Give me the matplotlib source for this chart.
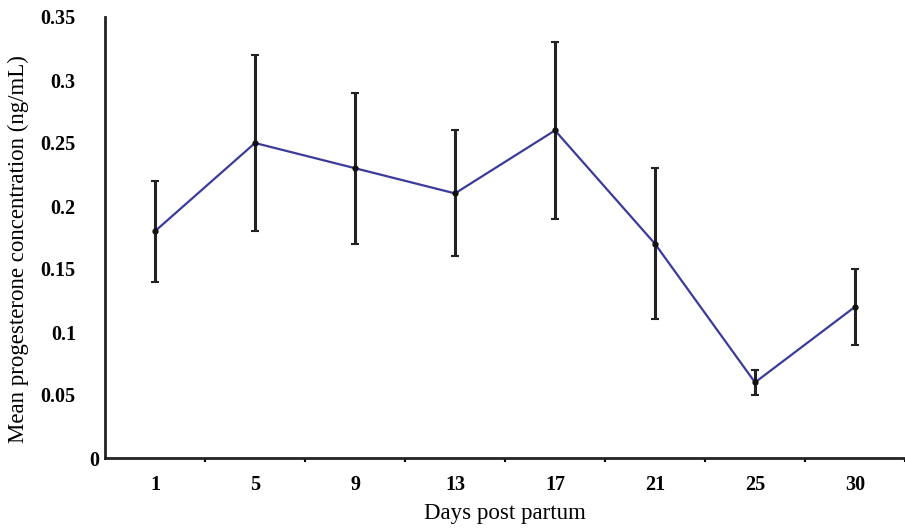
import numpy as np
import matplotlib.pyplot as plt
import matplotlib.transforms as mtransforms

# data
days = ['1', '5', '9', '13', '17', '21', '25', '30']
mean_p4 = [0.18, 0.25, 0.23, 0.21, 0.26, 0.17, 0.06, 0.12]
err_p4 = [0.04, 0.07, 0.06, 0.05, 0.07, 0.06, 0.01, 0.03]
yticks = [0, 0.05, 0.1, 0.15, 0.2, 0.25, 0.3, 0.35]
ytick_labels = ['0', '0.05', '0.1', '0.15', '0.2', '0.25', '0.3', '0.35']

plt.rcParams['font.family'] = ['Liberation Serif', 'DejaVu Serif']

fig = plt.figure(figsize=(9.05, 5.3), dpi=100)
ax = fig.add_axes([105 / 905, 72 / 530, 800 / 905, 441 / 530])

x = np.arange(len(days))
ax.plot(x, mean_p4, color='#3b3b9c', lw=1.6, zorder=2)
ax.errorbar(x, mean_p4, yerr=err_p4, fmt='o', ms=3.5, color='#111111',
            ecolor='#222222', elinewidth=2.2, capsize=3, capthick=1.5, zorder=3)

ax.set_xlim(-0.5, len(days) - 0.5)
ax.set_ylim(0, 0.35)

# category labels at centres, small ticks at the boundaries
ax.set_xticks(x + 0.5)
ax.set_xticklabels([])
ax.set_xticks(x, minor=True)
ax.set_xticklabels(days, minor=True, fontsize=14.5, fontweight='bold')
ax.tick_params(axis='x', which='major', direction='out', length=3, width=1.5)
ax.tick_params(axis='x', which='minor', length=0, pad=12)

ax.set_yticks(yticks)
ax.set_yticklabels(ytick_labels, fontsize=14.5, fontweight='bold')
ax.tick_params(axis='y', length=0, pad=21)
# the zero label sits right against the axis
lbl0 = ax.get_yticklabels()[0]
lbl0.set_transform(lbl0.get_transform() + mtransforms.ScaledTranslation(23 / 100, 0, fig.dpi_scale_trans))

for s in ['top', 'right']:
    ax.spines[s].set_visible(False)
ax.spines['left'].set_linewidth(2)
ax.spines['bottom'].set_linewidth(2)
ax.spines['left'].set_color('#222222')
ax.spines['bottom'].set_color('#222222')

ax.set_xlabel('Days post partum', fontsize=16.5, labelpad=6)
fig.text(18 / 905, 281 / 530, 'Mean progesterone concentration (ng/mL)',
         rotation=90, fontsize=16.5, ha='center', va='center')

fig.savefig('out.png', dpi=100)
